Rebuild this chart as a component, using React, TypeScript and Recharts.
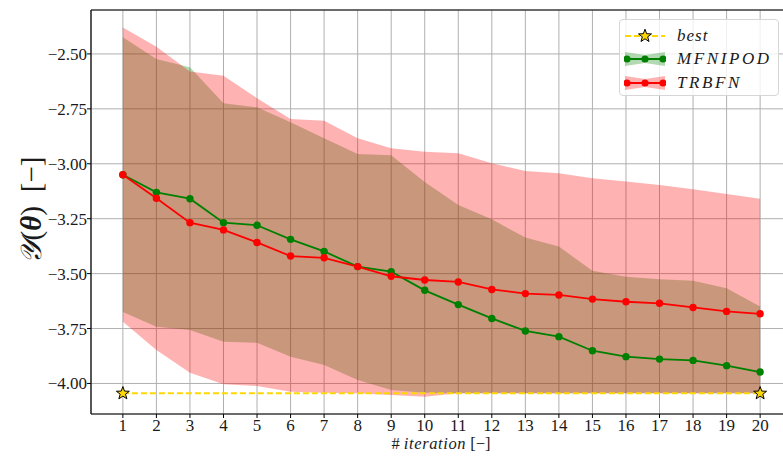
import React from "react";
import {
  ComposedChart,
  Area,
  Line,
  XAxis,
  YAxis,
  CartesianGrid,
  Legend,
  ReferenceLine,
} from "recharts";

const iterations = [1, 2, 3, 4, 5, 6, 7, 8, 9, 10, 11, 12, 13, 14, 15, 16, 17, 18, 19, 20];

const trbfnMean = [-3.05, -3.157, -3.268, -3.301, -3.358, -3.42, -3.428, -3.468, -3.512, -3.529, -3.538, -3.572, -3.591, -3.597, -3.616, -3.628, -3.635, -3.654, -3.672, -3.683];
const trbfnUpper = [-2.38, -2.467, -2.58, -2.599, -2.702, -2.796, -2.804, -2.884, -2.929, -2.945, -2.952, -2.998, -3.033, -3.043, -3.066, -3.081, -3.097, -3.116, -3.138, -3.159];
const trbfnLower = [-3.719, -3.848, -3.951, -4.004, -4.012, -4.038, -4.042, -4.045, -4.053, -4.061, -4.045, -4.045, -4.045, -4.045, -4.045, -4.045, -4.045, -4.045, -4.045, -4.045];

const mfnipodMean = [-3.05, -3.13, -3.159, -3.268, -3.28, -3.344, -3.399, -3.468, -3.491, -3.576, -3.641, -3.704, -3.761, -3.787, -3.851, -3.878, -3.889, -3.895, -3.919, -3.948];
const mfnipodUpper = [-2.424, -2.523, -2.561, -2.725, -2.743, -2.811, -2.884, -2.955, -2.961, -3.083, -3.188, -3.253, -3.336, -3.377, -3.487, -3.514, -3.526, -3.532, -3.567, -3.65];
const mfnipodLower = [-3.675, -3.742, -3.757, -3.81, -3.815, -3.878, -3.916, -3.984, -4.03, -4.042, -4.045, -4.045, -4.045, -4.045, -4.045, -4.045, -4.045, -4.045, -4.045, -4.045];

const bestValue = -4.045;

const yTicks = [-4.0, -3.75, -3.5, -3.25, -3.0, -2.75, -2.5];
const yDomain = [-4.139, -2.3];
const xDomain = [0.05, 20.95];

const data = iterations.map((it, i) => ({
  it,
  trbfn: trbfnMean[i],
  mfnipod: mfnipodMean[i],
  trbfnBand: [trbfnLower[i], trbfnUpper[i]],
  mfnipodBand: [mfnipodLower[i], mfnipodUpper[i]],
  best: bestValue,
}));

const SERIF = "Liberation Serif";
const GREEN = "#008000";
const RED = "#ff0000";
const GOLD = "#FFD700";
const MINUS = "\u2212";
const TEXT = "#1a1a1a";

function starPath(cx: number, cy: number, R: number, r: number) {
  let d = "";
  for (let k = 0; k < 10; k++) {
    const rad = k % 2 === 0 ? R : r;
    const a = -Math.PI / 2 + (k * Math.PI) / 5;
    const px = cx + rad * Math.cos(a);
    const py = cy + rad * Math.sin(a);
    d += (k === 0 ? "M" : "L") + px.toFixed(2) + "," + py.toFixed(2);
  }
  return d + "Z";
}

const StarDot = (props: any) => {
  const { cx, cy, index } = props;
  if (index !== 0 && index !== iterations.length - 1) return <g key={"s" + index} />;
  return (
    <path
      key={"s" + index}
      d={starPath(cx, cy, 6.8, 2.8)}
      fill={GOLD}
      stroke="#000"
      strokeWidth={1}
    />
  );
};

const fmt = (v: number) => (v < 0 ? MINUS : "") + Math.abs(v).toFixed(2);

const XTick = (props: any) => {
  const { x, y, payload } = props;
  return (
    <text x={x} y={y + 10.5} textAnchor="middle" fill={TEXT} style={{ fontFamily: SERIF, fontSize: 17 }}>
      {String(payload.value)}
    </text>
  );
};

const YTick = (props: any) => {
  const { x, y, payload } = props;
  return (
    <text x={x + 2} y={y + 6} textAnchor="end" fill={TEXT} style={{ fontFamily: SERIF, fontSize: 17 }}>
      {fmt(payload.value)}
    </text>
  );
};

const BandHandle = ({ color }: { color: string }) => (
  <svg width={42} height={20} style={{ display: "block" }}>
    <polygon points="1,3 21,6 41,3 41,17 21,14 1,17" fill={color} fillOpacity={0.3} />
    <line x1={1} y1={10} x2={41} y2={10} stroke={color} strokeWidth={1.8} />
    <circle cx={3} cy={10} r={3.6} fill={color} />
    <circle cx={21} cy={10} r={3.6} fill={color} />
    <circle cx={39} cy={10} r={3.6} fill={color} />
  </svg>
);

const BestHandle = () => (
  <svg width={42} height={20} style={{ display: "block" }}>
    <line x1={1} y1={10} x2={41} y2={10} stroke={GOLD} strokeWidth={2} strokeDasharray="6 3" />
    <path d={starPath(21, 10, 6.8, 2.8)} fill={GOLD} stroke="#000" strokeWidth={1} />
  </svg>
);

const legendRows = [
  { name: "best", kind: "best", color: GOLD, spacing: 1 },
  { name: "MFNIPOD", kind: "band", color: GREEN, spacing: 2.6 },
  { name: "TRBFN", kind: "band", color: RED, spacing: 2.6 },
];

const renderLegend = () => (
  <div
    style={{
      background: "rgba(255,255,255,0.8)",
      border: "1px solid #d6d6d6",
      borderRadius: 4,
      width: 160,
      height: 77,
      boxSizing: "border-box",
      padding: "4px 0 0 4px",
      fontFamily: SERIF,
    }}
  >
    {legendRows.map((r) => (
      <div key={r.name} style={{ display: "flex", alignItems: "center", height: 23.5 }}>
        {r.kind === "best" ? <BestHandle /> : <BandHandle color={r.color} />}
        <span
          style={{
            marginLeft: 11,
            fontStyle: "italic",
            fontSize: 17,
            letterSpacing: r.spacing,
            color: TEXT,
          }}
        >
          {r.name}
        </span>
      </div>
    ))}
  </div>
);

const XLabel = () => (
  <text x={441} y={449} textAnchor="middle" fill={TEXT} style={{ fontFamily: SERIF, fontSize: 16.5 }}>
    <tspan>{"# "}</tspan>
    <tspan fontStyle="italic" letterSpacing={0.6}>iteration</tspan>
    <tspan>{" [" + MINUS + "]"}</tspan>
  </text>
);

const YLabel = () => (
  <text
    transform="translate(41,210) rotate(-90)"
    textAnchor="middle"
    fill={TEXT}
    style={{ fontFamily: SERIF, fontSize: 29 }}
  >
    <tspan fontStyle="italic">{"\u{1D4B4}"}</tspan>
    <tspan>(</tspan>
    <tspan fontStyle="italic" fontWeight="bold">θ</tspan>
    <tspan>)</tspan>
    <tspan dx={14}>{"[" + MINUS + "]"}</tspan>
  </text>
);

export default function App() {
  return (
    <div
      style={{
        position: "fixed",
        top: 0,
        left: 0,
        width: 783,
        height: 457,
        overflow: "hidden",
        background: "#fff",
        fontFamily: SERIF,
      }}
    >
      <ComposedChart
        width={800}
        height={457}
        data={data}
        margin={{ top: 10, right: 8, bottom: 0, left: 0 }}
      >
        <XAxis
          dataKey="it"
          type="number"
          domain={xDomain}
          ticks={iterations}
          interval={0}
          allowDataOverflow
          height={43}
          axisLine={{ stroke: "#000", strokeWidth: 1.2 }}
          tickLine={{ stroke: "#000" }}
          tickSize={4}
          tick={<XTick />}
          label={<XLabel />}
        />
        <YAxis
          type="number"
          domain={yDomain}
          ticks={yTicks}
          allowDataOverflow
          width={91}
          axisLine={{ stroke: "#000", strokeWidth: 1.2 }}
          tickLine={{ stroke: "#000" }}
          tickSize={4}
          tick={<YTick />}
          label={<YLabel />}
        />
        <Area
          type="linear"
          dataKey="mfnipodBand"
          stroke="none"
          fill={GREEN}
          fillOpacity={0.3}
          isAnimationActive={false}
          activeDot={false}
          legendType="none"
        />
        <Area
          type="linear"
          dataKey="trbfnBand"
          stroke="none"
          fill={RED}
          fillOpacity={0.3}
          isAnimationActive={false}
          activeDot={false}
          legendType="none"
        />
        <CartesianGrid stroke="#b0b0b0" strokeWidth={1} vertical horizontal />
        <ReferenceLine y={-2.3} stroke="#000" strokeWidth={1.2} ifOverflow="extendDomain" />
        <Line
          type="linear"
          dataKey="mfnipod"
          stroke={GREEN}
          strokeWidth={1.8}
          dot={{ r: 3.7, fill: GREEN, stroke: "none" }}
          activeDot={false}
          isAnimationActive={false}
        />
        <Line
          type="linear"
          dataKey="trbfn"
          stroke={RED}
          strokeWidth={1.8}
          dot={{ r: 3.7, fill: RED, stroke: "none" }}
          activeDot={false}
          isAnimationActive={false}
        />
        <Line
          type="linear"
          dataKey="best"
          stroke={GOLD}
          strokeWidth={2}
          strokeDasharray="6 3"
          dot={<StarDot />}
          activeDot={false}
          isAnimationActive={false}
        />
        <Legend
          layout="vertical"
          align="center"
          verticalAlign="middle"
          content={renderLegend}
          wrapperStyle={{ position: "absolute", top: 19, left: 619, width: 162 }}
        />
      </ComposedChart>
    </div>
  );
}
